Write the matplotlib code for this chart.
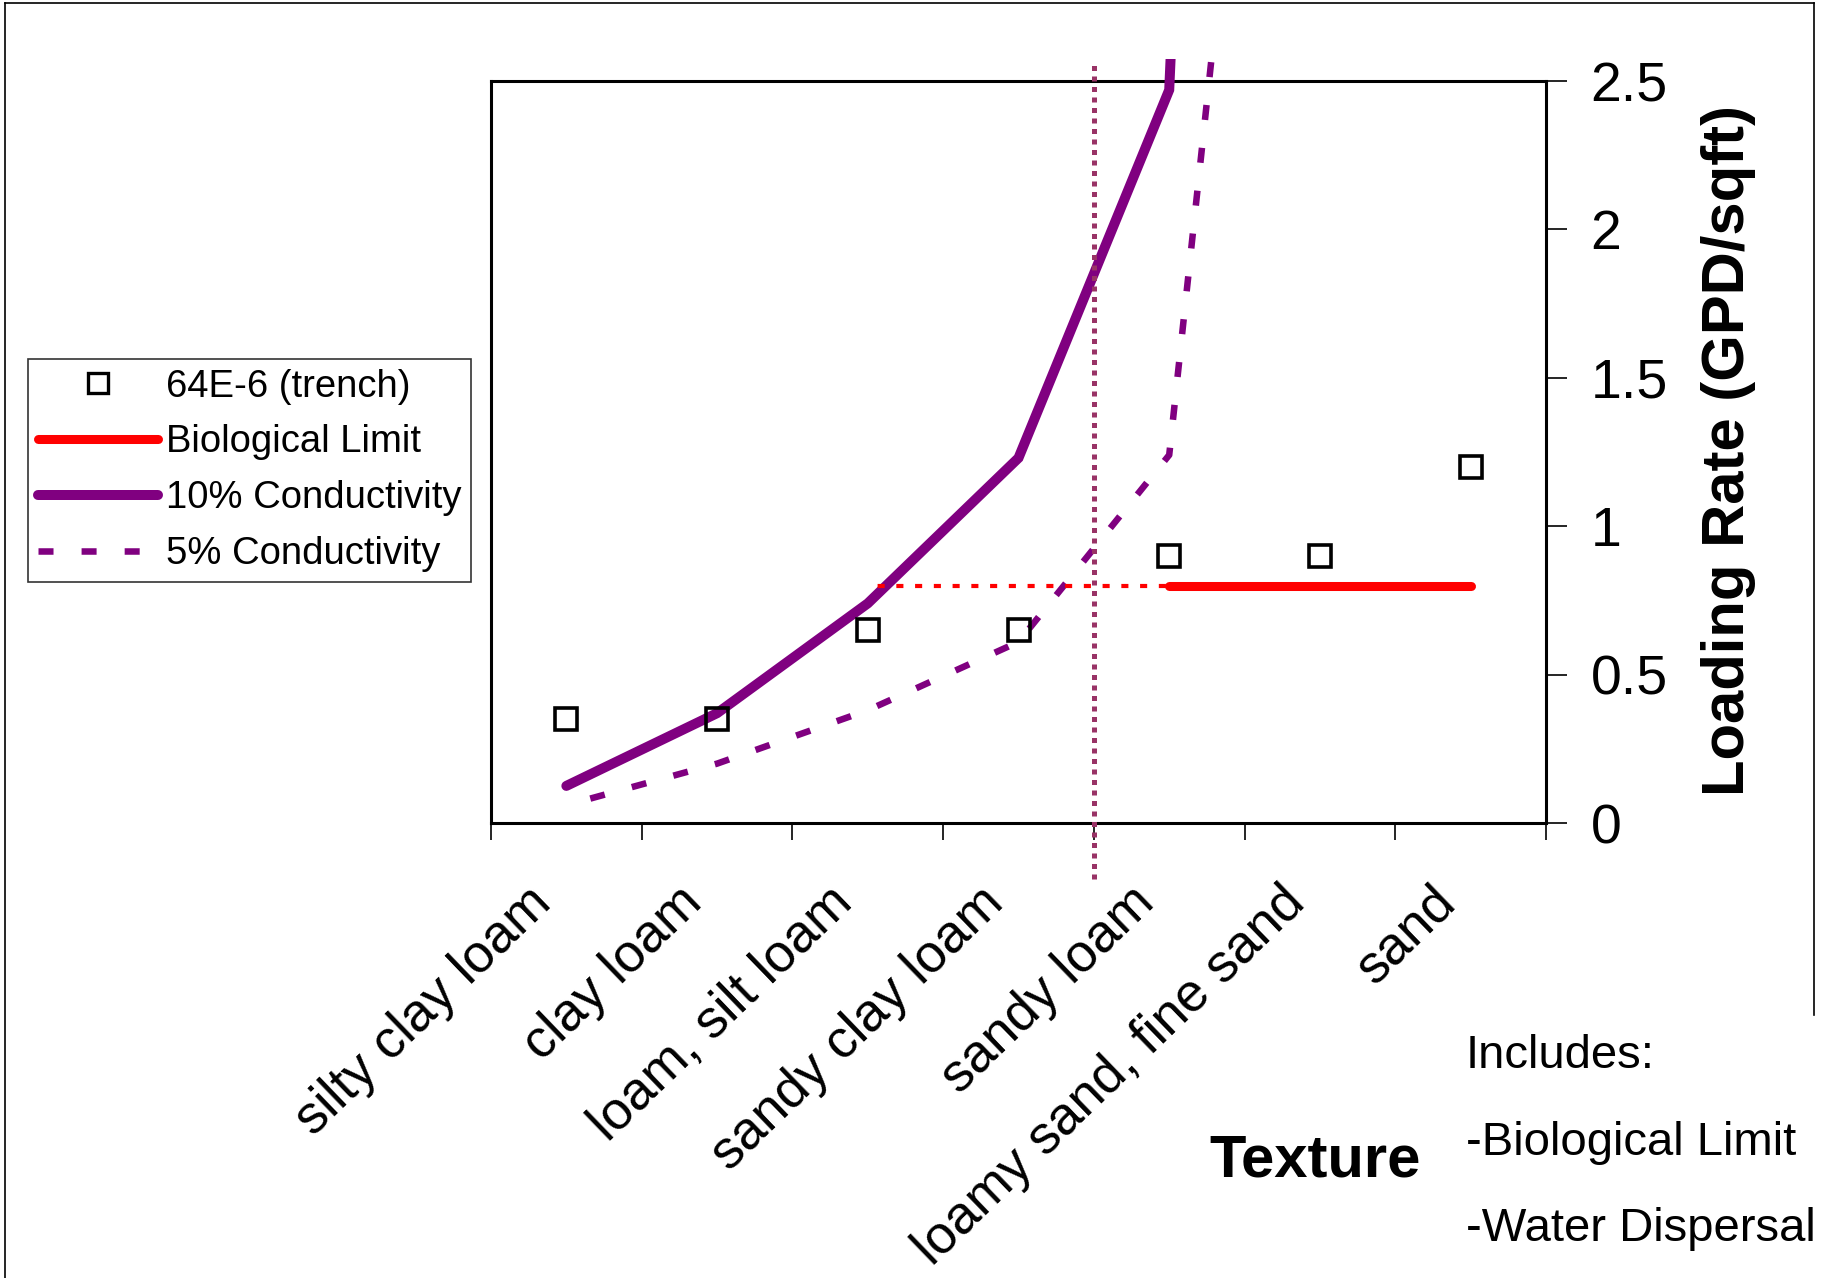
import matplotlib
matplotlib.use("Agg")
import matplotlib.pyplot as plt
from matplotlib.lines import Line2D
from matplotlib.patches import Rectangle
from matplotlib.transforms import ScaledTranslation
import numpy as np

# ---------------- data ----------------
categories = ["silty clay loam", "clay loam", "loam, silt loam", "sandy clay loam",
              "sandy loam", "loamy sand, fine sand", "sand"]
trench_64e6 = [0.35, 0.35, 0.65, 0.65, 0.90, 0.90, 1.20]
cond_10pct = [0.125, 0.37, 0.74, 1.23, 2.47, 14.0, np.nan]
cond_5pct = [0.06, 0.20, 0.38, 0.61, 1.24, 6.0, np.nan]
bio_limit = [np.nan, np.nan, 0.80, 0.80, 0.80, 0.80, 0.80]
yticks = [0, 0.5, 1, 1.5, 2, 2.5]
ytick_labels = ["0", "0.5", "1", "1.5", "2", "2.5"]
divider_x = [3.5, 3.5]
divider_y = [-0.19, 2.57]
series_labels = ["64E-6 (trench)", "Biological Limit", "10% Conductivity", "5% Conductivity"]
note_lines = ["Includes:", "-Biological Limit", "-Water Dispersal"]
y_title = "Loading Rate (GPD/sqft)"
x_title = "Texture"

# ---------------- style ----------------
plt.rcParams["font.family"] = ["Liberation Sans", "DejaVu Sans"]

PURPLE = "#800080"
RED = "#FF0000"
PLUM = "#993366"

W, H = 1834, 1278
fig = plt.figure(figsize=(W / 100, H / 100), dpi=100)
fig.patch.set_facecolor("white")
ax = fig.add_axes([491 / W, 1 - 823 / H, (1546 - 491) / W, (823 - 81) / H])
ax.set_facecolor("none")

x = np.arange(len(categories))
ax.set_xlim(-0.5, len(categories) - 0.5)
ax.set_ylim(0, 2.5)

clip = Rectangle((-0.5, -1.0), len(categories), 1.0 + 2.574, transform=ax.transData)

# 10% conductivity
l10, = ax.plot(x, cond_10pct, color=PURPLE, lw=7.2, solid_capstyle="round",
               solid_joinstyle="miter", zorder=4)
l10.set_clip_path(clip)
# 5% conductivity
l5, = ax.plot(x, cond_5pct, color=PURPLE, lw=4.7, linestyle=(2.8, (2.3, 4.3)),
              dash_capstyle="butt", zorder=4)
l5.set_clip_path(clip)
# biological limit: dotted part then solid part
bio = np.array(bio_limit, dtype=float)
split = 4
ax.plot(x[2:split + 1], bio[2:split + 1], color=RED, lw=3.0, linestyle=(2.2, (1.7, 2.8)),
        dash_capstyle="butt", zorder=4)
ax.plot(x[split:], bio[split:], color=RED, lw=6.5, solid_capstyle="round", zorder=4)
# divider
ax.plot(divider_x, divider_y, color=PLUM, lw=3.6, dashes=(1.0, 1.1),
        dash_capstyle="butt", clip_on=False, zorder=5)
# trench squares
ax.plot(x, trench_64e6, ls="none", marker="s", ms=16, mfc="none", mec="black",
        mew=2.6, zorder=6)

# spines
for s in ax.spines.values():
    s.set_linewidth(2.2)
    s.set_color("black")

# y axis on right
ax.yaxis.tick_right()
ax.set_yticks(yticks)
ax.set_yticklabels(ytick_labels, fontsize=40)
ax.tick_params(axis="y", which="major", direction="out", length=15, width=1.2,
               pad=17, right=True, left=False, colors="black")

# x axis: boundary tick marks, category labels as rotated text
ax.set_xticks(x)
ax.set_xticklabels([])
ax.tick_params(axis="x", which="major", length=0)
ax.set_xticks(np.arange(-0.5, len(categories), 1.0), minor=True)
ax.tick_params(axis="x", which="minor", direction="out", length=12, width=1.2,
               colors="black")
lab_trans = ax.get_xaxis_transform() + ScaledTranslation(-23 / 100, -72 / 100,
                                                         fig.dpi_scale_trans)
for xi, cat in zip(x, categories):
    ax.text(xi, 0, cat, transform=lab_trans, rotation=44, ha="right", va="center",
            rotation_mode="anchor", fontsize=38.5, clip_on=False)

# legend
handles = [
    Line2D([], [], ls="none", marker="s", ms=14, mfc="none", mec="black", mew=2.4),
    Line2D([], [], color=RED, lw=6.5, solid_capstyle="round"),
    Line2D([], [], color=PURPLE, lw=7.2, solid_capstyle="round"),
    Line2D([], [], color=PURPLE, lw=4.7, dashes=(2.3, 4.3), dash_capstyle="butt"),
]
leg = fig.legend(handles, series_labels, loc="upper left",
                 bbox_to_anchor=(28 / W, 1 - 359 / H), fontsize=27.5, frameon=True,
                 fancybox=False, edgecolor="black", handlelength=3.15,
                 handletextpad=0.2, labelspacing=0.52, borderpad=0.25,
                 borderaxespad=0.0)
leg.get_frame().set_linewidth(1.2)

# titles
fig.text(1728 / W, 1 - 450 / H, y_title, rotation=90, ha="center", va="center",
         fontsize=43, fontweight="bold")
fig.text(1315 / W, 1 - 1161 / H, x_title, ha="center", va="center",
         fontsize=43, fontweight="bold")

# note block
note_y = [1056, 1143, 1229]
for txt, yy in zip(note_lines, note_y):
    fig.text(1466 / W, 1 - yy / H, txt, ha="left", va="center", fontsize=34)

# outer frame
fr = dict(transform=fig.transFigure, color="black", lw=1.2)
fig.add_artist(Line2D([5 / W, 5 / W], [0, 1 - 3 / H], **fr))
fig.add_artist(Line2D([5 / W, 1814 / W], [1 - 3 / H, 1 - 3 / H], **fr))
fig.add_artist(Line2D([1814 / W, 1814 / W], [1 - 3 / H, 1 - 1015 / H], **fr))

fig.savefig("out.png", dpi=100, facecolor="white")
